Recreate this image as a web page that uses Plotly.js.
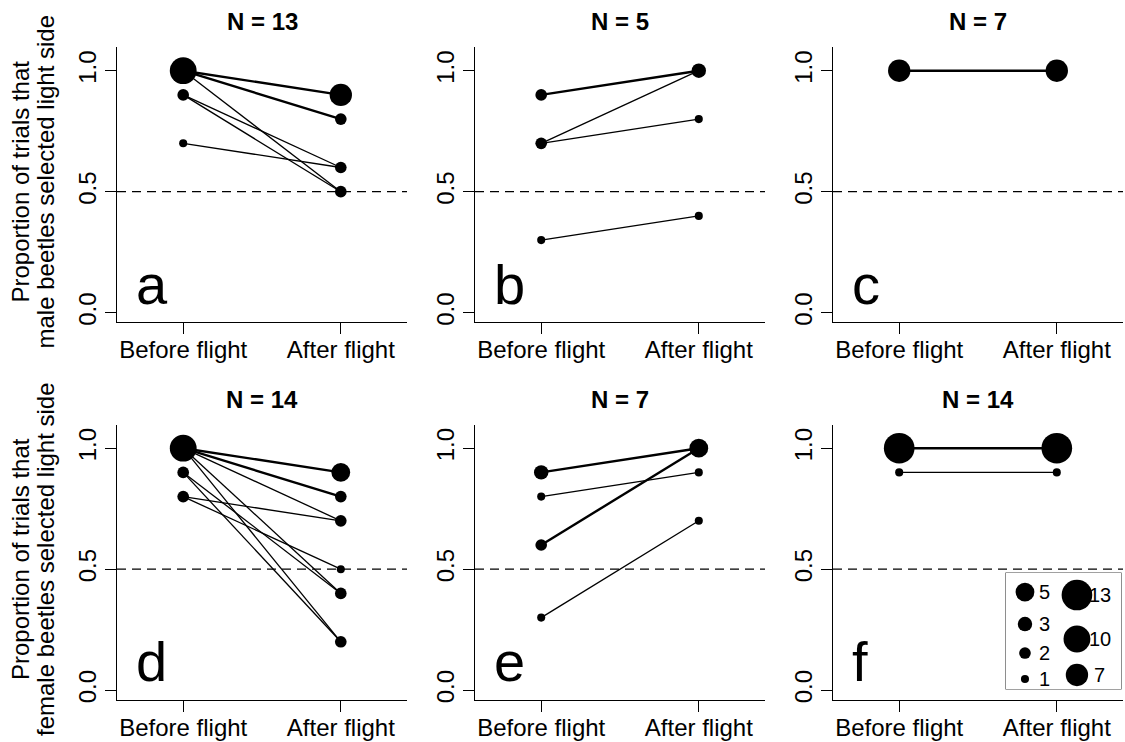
<!DOCTYPE html>
<html>
<head>
<meta charset="utf-8">
<script src="https://cdn.plot.ly/plotly-3.0.1.min.js"></script>
<style>
  html, body { margin: 0; padding: 0; background: #fff; }
  #chart { width: 1125px; height: 742px; }
</style>
</head>
<body>
<div id="chart"></div>
<script>
// ---------------- data ----------------
const xCategories = ['Before flight', 'After flight'];
const yTickValues = [0, 0.5, 1.0];
const yTickLabels = ['0.0', '0.5', '1.0'];
const panelLetters = ['a', 'b', 'c', 'd', 'e', 'f'];
const panelTitles = ['N = 13', 'N = 5', 'N = 7', 'N = 14', 'N = 7', 'N = 14'];
const rowTitles = [
  ['Proportion of trials that', 'male beetles selected light side'],
  ['Proportion of trials that', 'female beetles selected light side']
];

// each entry: one group of beetles with identical before/after proportions
const aBefore = [1.0, 1.0, 1.0, 0.9, 0.9, 0.7];
const aAfter  = [0.9, 0.8, 0.5, 0.6, 0.5, 0.6];
const aCount  = [7, 2, 1, 1, 1, 1];

const bBefore = [0.9, 0.7, 0.7, 0.3];
const bAfter  = [1.0, 1.0, 0.8, 0.4];
const bCount  = [2, 1, 1, 1];

const cBefore = [1.0];
const cAfter  = [1.0];
const cCount  = [7];

const dBefore = [1.0, 1.0, 1.0, 1.0, 1.0, 0.9, 0.9, 0.8, 0.8];
const dAfter  = [0.9, 0.8, 0.7, 0.4, 0.2, 0.4, 0.2, 0.7, 0.5];
const dCount  = [5, 2, 1, 1, 1, 1, 1, 1, 1];

const eBefore = [0.9, 0.8, 0.6, 0.3];
const eAfter  = [1.0, 0.9, 1.0, 0.7];
const eCount  = [3, 1, 2, 1];

const fBefore = [1.0, 0.9];
const fAfter  = [1.0, 0.9];
const fCount  = [13, 1];

const legendCountsCol1 = [5, 3, 2, 1];
const legendCountsCol2 = [13, 10, 7];

const panels = [
  {before: aBefore, after: aAfter, n: aCount},
  {before: bBefore, after: bAfter, n: bCount},
  {before: cBefore, after: cAfter, n: cCount},
  {before: dBefore, after: dAfter, n: dCount},
  {before: eBefore, after: eAfter, n: eCount},
  {before: fBefore, after: fAfter, n: fCount}
];

// ---------------- styling / layout ----------------
const W = 1125, H = 742;
const FONT = 'Liberation Sans, Arial, Helvetica, sans-serif';
const FS = 24;
const colPx = [[117, 407], [475, 765], [833, 1123]];
const rowPx = [[47, 322], [424.5, 699.5]];
const xRange = [0.58, 2.42];
const yRange = [-0.0385, 1.098];
const markerDiam = n => 8.67 * Math.sqrt(n) - 0.6;
const lineW = n => (n > 1 ? 2.4 : 1.3);

const traces = [];
const layout = {
  width: W, height: H,
  margin: {l: 0, r: 0, t: 0, b: 0},
  paper_bgcolor: '#fff', plot_bgcolor: '#fff',
  showlegend: false,
  font: {family: FONT, size: FS, color: '#000'},
  shapes: [], annotations: []
};

panels.forEach((p, i) => {
  const row = Math.floor(i / 3), col = i % 3;
  const sfx = i === 0 ? '' : String(i + 1);
  const xa = 'x' + sfx, ya = 'y' + sfx;
  const xDom = [colPx[col][0] / W, colPx[col][1] / W];
  const yDom = [1 - rowPx[row][1] / H, 1 - rowPx[row][0] / H];

  layout['xaxis' + sfx] = {
    domain: xDom, range: xRange, anchor: ya,
    tickmode: 'array', tickvals: [1, 2], ticktext: xCategories,
    ticks: 'outside', ticklen: 11, tickwidth: 1.2, tickcolor: '#000',
    ticklabelstandoff: -5,
    showline: true, linecolor: '#000', linewidth: 1.4, mirror: false,
    showgrid: false, zeroline: false, fixedrange: true,
    tickfont: {family: FONT, size: FS, color: '#000'}
  };
  layout['yaxis' + sfx] = {
    domain: yDom, range: yRange, anchor: xa,
    tickmode: 'array', tickvals: yTickValues, ticktext: yTickLabels,
    ticks: 'outside', ticklen: 11, tickwidth: 1.2, tickcolor: '#000',
    tickangle: -90, ticklabelstandoff: -1,
    showline: true, linecolor: '#000', linewidth: 1.4, mirror: false,
    showgrid: false, zeroline: false, fixedrange: true,
    tickfont: {family: FONT, size: FS, color: '#000'}
  };

  // connecting lines, one per group
  p.before.forEach((b, k) => {
    traces.push({
      type: 'scatter', mode: 'lines', xaxis: xa, yaxis: ya,
      x: [1, 2], y: [b, p.after[k]],
      line: {color: '#000', width: lineW(p.n[k])},
      hoverinfo: 'skip'
    });
  });

  // aggregated points
  const agg = (vals) => {
    const m = new Map();
    vals.forEach((v, k) => m.set(v, (m.get(v) || 0) + p.n[k]));
    return m;
  };
  [[1, agg(p.before)], [2, agg(p.after)]].forEach(([xv, m]) => {
    const ys = [...m.keys()];
    traces.push({
      type: 'scatter', mode: 'markers', xaxis: xa, yaxis: ya,
      x: ys.map(() => xv), y: ys,
      marker: {color: '#000', opacity: 1, size: ys.map(v => markerDiam(m.get(v))), line: {width: 0}},
      cliponaxis: false, hoverinfo: 'skip'
    });
  });

  // dashed reference at 0.5
  layout.shapes.push({
    type: 'line', xref: xa + ' domain', yref: ya,
    x0: 0, x1: 1, y0: 0.5, y1: 0.5,
    line: {color: '#000', width: 1.3, dash: '9px,6px'}
  });

  // title
  layout.annotations.push({
    xref: 'paper', yref: 'paper',
    x: (xDom[0] + xDom[1]) / 2, y: 1 - (rowPx[row][0] - 25) / H,
    xanchor: 'center', yanchor: 'middle', showarrow: false,
    text: '<b>' + panelTitles[i] + '</b>',
    font: {family: FONT, size: FS, color: '#000'}
  });

  // panel letter
  layout.annotations.push({
    xref: xa + ' domain', yref: ya + ' domain',
    x: 0.06, y: 0.015, xanchor: 'left', yanchor: 'bottom', showarrow: false,
    text: panelLetters[i],
    font: {family: FONT, size: 56, color: '#000'}
  });
});

// row axis titles
rowTitles.forEach((lines, r) => {
  const yc = 1 - ((rowPx[r][0] + rowPx[r][1]) / 2 - 3) / H;
  [20, 45].forEach((xpx, li) => {
    layout.annotations.push({
      xref: 'paper', yref: 'paper', x: xpx / W, y: yc,
      xanchor: 'center', yanchor: 'middle', showarrow: false, textangle: -90,
      text: lines[li], font: {family: FONT, size: FS, color: '#000'}
    });
  });
});

// size legend inside panel f
const lgBox = [1006, 573, 1121, 689]; // px: left, top, right, bottom
layout.shapes.push({
  type: 'rect', xref: 'paper', yref: 'paper',
  x0: lgBox[0] / W, x1: lgBox[2] / W, y0: 1 - lgBox[3] / H, y1: 1 - lgBox[1] / H,
  line: {color: '#444', width: 1.2}, fillcolor: 'rgba(255,255,255,1)', layer: 'below'
});
layout.xaxis7 = {domain: [lgBox[0] / W, lgBox[2] / W], range: [0, 1], anchor: 'y7', visible: false, fixedrange: true};
layout.yaxis7 = {domain: [1 - lgBox[3] / H, 1 - lgBox[1] / H], range: [0, 1], anchor: 'x7', visible: false, fixedrange: true};
const lgCol1Y = [0.836, 0.56, 0.31, 0.086];
const lgCol2Y = [0.81, 0.431, 0.121];
traces.push({
  type: 'scatter', mode: 'markers', xaxis: 'x7', yaxis: 'y7',
  x: legendCountsCol1.map(() => 0.165), y: lgCol1Y,
  marker: {color: '#000', opacity: 1, size: legendCountsCol1.map(markerDiam), line: {width: 0}},
  cliponaxis: false, hoverinfo: 'skip'
});
traces.push({
  type: 'scatter', mode: 'markers', xaxis: 'x7', yaxis: 'y7',
  x: legendCountsCol2.map(() => 0.617), y: lgCol2Y,
  marker: {color: '#000', opacity: 1, size: legendCountsCol2.map(markerDiam), line: {width: 0}},
  cliponaxis: false, hoverinfo: 'skip'
});
legendCountsCol1.forEach((n, k) => layout.annotations.push({
  xref: 'x7', yref: 'y7', x: 0.27, y: lgCol1Y[k], xanchor: 'left', yanchor: 'middle',
  showarrow: false, text: String(n), font: {family: FONT, size: 20, color: '#000'}
}));
legendCountsCol2.forEach((n, k) => layout.annotations.push({
  xref: 'x7', yref: 'y7', x: n >= 10 ? 0.7 : 0.75, y: lgCol2Y[k], xanchor: 'left', yanchor: 'middle',
  showarrow: false, text: String(n), font: {family: FONT, size: 20, color: '#000'}
}));

Plotly.newPlot('chart', traces, layout, {staticPlot: true, displayModeBar: false});
</script>
</body>
</html>
